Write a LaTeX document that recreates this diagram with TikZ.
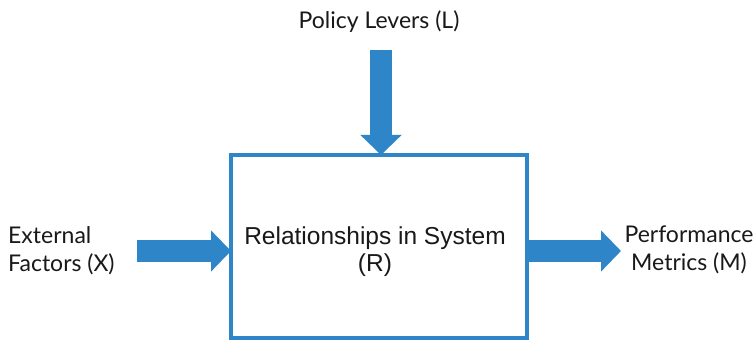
\documentclass[tikz,border=0pt]{standalone}
\usepackage{fontspec}
\newfontfamily\gillfont{Lato}
\newfontfamily\arialfont{Liberation Sans}
\usetikzlibrary{arrows.meta}
\definecolor{sysblue}{RGB}{46,134,201}
\tikzset{
  sysbox/.style={draw=sysblue, line width=4pt, inner sep=0pt, outer sep=0pt, minimum width=296pt, minimum height=183pt},
  fat/.style={draw=sysblue, line width=22pt, -{Triangle[length=20pt,width=40pt]}},
  side/.style={font={\gillfont\fontsize{23}{28}\selectfont}, text=black!90, inner sep=0pt},
  inner/.style={font={\arialfont\fontsize{24.5}{27}\selectfont}, text=black!90, inner sep=0pt, align=center}
}
\begin{document}
\begin{tikzpicture}[x=1pt,y=-1pt]
\useasboundingbox[fill=white] (0,0) rectangle (755,344);
\node[sysbox] (sys) at (379,246.5) {};
\node[inner, anchor=north] (rel) at (375,227) {Relationships in System\\(R)};
\node[side, anchor=base] (lev) at (379,29) {Policy Levers (L)};
\node[side, anchor=north west, align=left] (ext) at (8,226) {External\\Factors (X)};
\node[side, anchor=north, align=center] (perf) at (689,226) {Performance\\Metrics (M)};
\coordinate (ltop) at (381,50);
\coordinate (xs) at (137,251);
\coordinate (me) at (621,251);
\draw[fat] (ltop) -- (ltop |- sys.north);
\draw[fat] (xs) -- (xs -| sys.west);
\draw[fat] (me -| sys.east) -- (me);
\end{tikzpicture}
\end{document}
